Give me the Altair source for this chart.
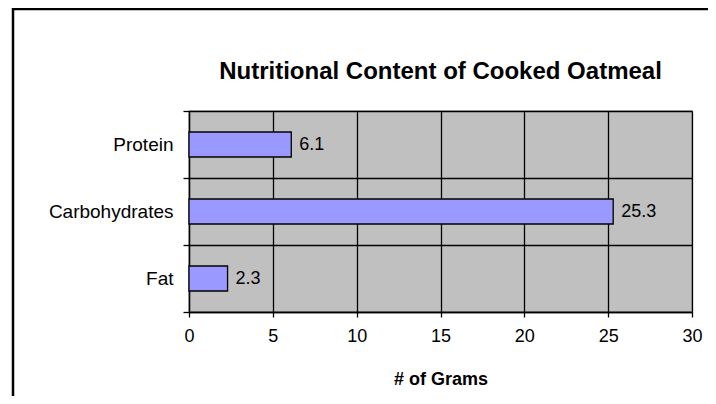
import altair as alt
import pandas as pd

categories = ["Protein", "Carbohydrates", "Fat"]
grams = [6.1, 25.3, 2.3]
x_ticks = [0, 5, 10, 15, 20, 25, 30]

df = pd.DataFrame({"nutrient": categories, "grams": grams})
FONT = "Liberation Sans"

base = alt.Chart(df).encode(
    y=alt.Y(
        "nutrient:N",
        sort=categories,
        title=None,
        scale=alt.Scale(paddingInner=0, paddingOuter=0),
        axis=alt.Axis(
            grid=True, gridColor="#000000", gridWidth=1.3, gridOpacity=1,
            tickBand="extent", tickColor="#000000", tickSize=6, tickWidth=1.3,
            domainColor="#000000", domainWidth=1.3,
            labelFont=FONT, labelFontSize=19, labelColor="#000000",
            labelPadding=10,
        ),
    ),
)

x_enc = alt.X(
    "grams:Q",
    title="# of Grams",
    scale=alt.Scale(domain=[0, 30], nice=False),
    axis=alt.Axis(
        values=x_ticks, grid=True, gridColor="#000000", gridWidth=1.3, gridOpacity=1,
        tickColor="#000000", tickSize=5, tickWidth=1.3,
        domainColor="#000000", domainWidth=1.3,
        labelFont=FONT, labelFontSize=18, labelColor="#000000",
        labelBaseline="alphabetic", labelPadding=24, labelFlush=False,
        titleFont=FONT, titleFontSize=18, titleFontWeight="bold", titleColor="#000000",
        titleBaseline="alphabetic", titleY=72,
    ),
)

bars = base.mark_bar(size=25, fill="#9999FF", stroke="#000000", strokeWidth=1.3).encode(x=x_enc)
labels = base.mark_text(align="left", baseline="middle", dx=8, font=FONT, fontSize=18, color="#000000").encode(
    x="grams:Q", text=alt.Text("grams:Q", format=".1f")
)

frame_data = alt.Data(values=[{"a": 1}])
left_line = alt.Chart(frame_data).mark_rule(color="#000000", strokeWidth=2.5).encode(
    x=alt.value(-176), y=alt.value(-103), y2=alt.value(300)
)
top_line = alt.Chart(frame_data).mark_rule(color="#000000", strokeWidth=2.5).encode(
    x=alt.value(-176), x2=alt.value(530), y=alt.value(-102)
)

chart = alt.layer(bars, labels, left_line, top_line).properties(
    width=503,
    height=201,
    padding={"left": 181, "top": 103, "right": 16, "bottom": 84},
    autosize=alt.AutoSizeParams(type="none"),
    background="#FFFFFF",
    title=alt.TitleParams(
        "Nutritional Content  of Cooked Oatmeal",
        font=FONT, fontSize=24, fontWeight="bold", color="#000000",
        anchor="middle", baseline="alphabetic", offset=-96,
    ),
).configure_view(fill="#C0C0C0", stroke="#808080", strokeWidth=1.3)

chart.save("out.html", embed_options={"renderer": "svg", "actions": False})
